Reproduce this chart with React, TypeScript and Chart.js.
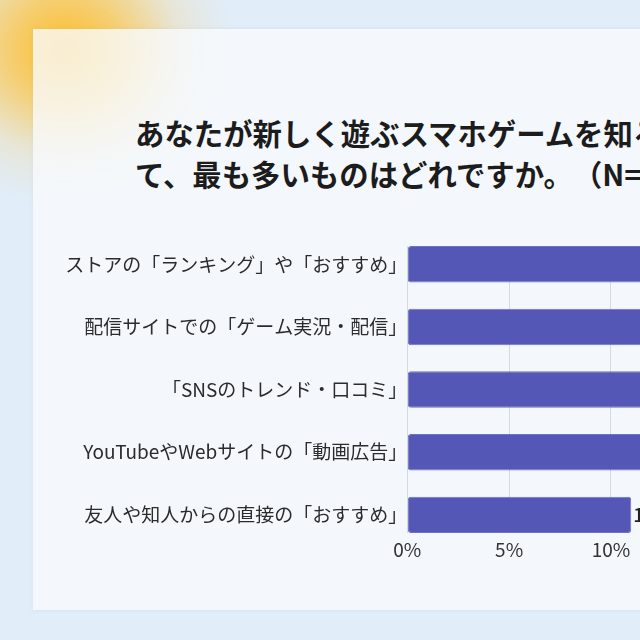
import { useEffect, useRef } from 'react';
import Chart from 'chart.js/auto';

const titleLines = [
  'あなたが新しく遊ぶスマホゲームを知るきっかけとし',
  'て、最も多いものはどれですか。（N=500）',
];

const categories = [
  'ストアの「ランキング」や「おすすめ」',
  '配信サイトでの「ゲーム実況・配信」',
  '「SNSのトレンド・口コミ」',
  'YouTubeやWebサイトの「動画広告」',
  '友人や知人からの直接の「おすすめ」',
];

// share of answers (%)
const values = [28.4, 20.2, 17.6, 14.8, 11.0];

const xTicks = [0, 5, 10, 15, 20, 25, 30, 35];

const FONT = '"Noto Sans CJK JP", "Noto Sans", sans-serif';

const valueLabels = {
  id: 'valueLabels',
  afterDatasetsDraw(chart: any) {
    const { ctx } = chart;
    const meta = chart.getDatasetMeta(0);
    ctx.save();
    ctx.font = `500 19px ${FONT}`;
    ctx.fillStyle = '#222';
    ctx.textBaseline = 'middle';
    ctx.textAlign = 'left';
    meta.data.forEach((bar: any, i: number) => {
      ctx.fillText(values[i].toFixed(1) + '%', bar.x + 2, bar.y);
    });
    ctx.restore();
  },
};

function BarChart() {
  const canvas = useRef<HTMLCanvasElement>(null);
  useEffect(() => {
    let chart: Chart<any> | undefined;
    if (canvas.current) {
      chart = new Chart(canvas.current, {
        type: 'bar',
        data: {
          datasets: [
            {
              data: values.map((v, i) => ({ x: v, y: i })),
              backgroundColor: '#5457b5',
              borderColor: '#6e71c4',
              borderWidth: 1,
              borderRadius: 3,
              borderSkipped: false,
              categoryPercentage: 1,
              barPercentage: 0.5825,
            },
          ],
        },
        plugins: [valueLabels],
        options: {
          indexAxis: 'y',
          animation: false,
          responsive: true,
          maintainAspectRatio: false,
          layout: { padding: { top: 26, bottom: 14, left: 0, right: 30 } },
          plugins: {
            legend: { display: false },
            tooltip: { enabled: false },
          },
          scales: {
            x: {
              type: 'linear',
              min: xTicks[0],
              max: xTicks[xTicks.length - 1],
              grid: { color: '#d4dae3', drawTicks: false },
              border: { display: false },
              ticks: {
                stepSize: xTicks[1] - xTicks[0],
                padding: 5,
                color: '#333',
                font: { family: FONT, size: 19 },
                callback: (v: any) => v + '%',
              },
            },
            y: {
              type: 'linear',
              reverse: true,
              offset: false,
              bounds: 'data',
              min: -0.2925,
              max: categories.length - 1 + 0.2925,
              grid: { display: false, drawTicks: false, offset: false },
              border: { display: false },
              afterBuildTicks: (scale: any) => {
                scale.ticks = categories.map((_, i) => ({ value: i }));
              },
              afterFit: (scale: any) => {
                scale.width = 374.3;
              },
              ticks: {
                autoSkip: false,
                padding: 0,
                color: '#2b2b2b',
                font: { family: FONT, size: 19 },
                callback: (v: any) => categories[Math.round(v)] ?? '',
              },
            },
          },
        },
      });
    }
    return () => {
      chart?.destroy();
    };
  }, []);

  return (
    <div
      style={{
        position: 'absolute',
        left: 33,
        top: 220,
        width: 1117,
        height: 360,
      }}
    >
      <canvas ref={canvas} />
    </div>
  );
}

export default function App() {
  return (
    <div
      style={{
        position: 'fixed',
        left: 0,
        top: 0,
        width: 640,
        height: 640,
        overflow: 'hidden',
        background: '#e1edf8',
      }}
    >
      <div
        style={{
          position: 'absolute',
          left: -100,
          top: -100,
          width: 330,
          height: 300,
          borderRadius: '50%',
          background:
            'radial-gradient(closest-side, rgba(252,188,40,1) 0%, rgba(252,196,70,0.75) 35%, rgba(252,210,120,0.25) 70%, rgba(252,220,150,0) 100%)',
          filter: 'blur(8px)',
        }}
      />
      <div
        style={{
          position: 'absolute',
          left: 33,
          top: 29,
          width: 1200,
          height: 581,
          background: 'rgba(249,251,254,0.78)',
          boxShadow: '0 0 4px rgba(120,150,190,0.12)',
        }}
      />
      <div
        style={
          {
            position: 'absolute',
            left: 135,
            top: 112,
            fontFamily: FONT,
            fontWeight: 700,
            fontSize: 29.4,
            lineHeight: '41px',
            color: '#1c1c1c',
            whiteSpace: 'nowrap',
            textSpacingTrim: 'space-all',
          } as any
        }
      >
        {titleLines.map((line) => (
          <div key={line}>{line}</div>
        ))}
      </div>
      <BarChart />
    </div>
  );
}
